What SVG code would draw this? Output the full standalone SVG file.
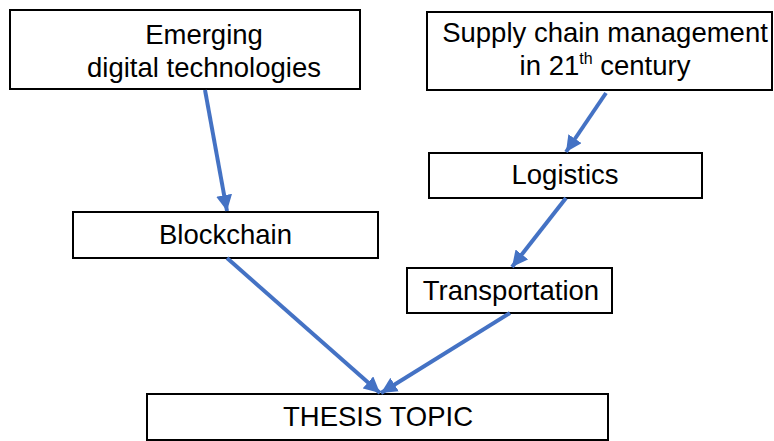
<svg xmlns="http://www.w3.org/2000/svg" width="774" height="441" viewBox="0 0 774 441">
<style>
.box{fill:#fff;stroke:#000;stroke-width:2}
.t{font-family:"Liberation Sans",Arial,sans-serif;font-size:27.5px;fill:#000;text-anchor:middle}
.c{stroke:#4472C4;stroke-width:4;fill:none;marker-end:url(#ah)}
</style>
<defs>
<marker id="ah" markerUnits="userSpaceOnUse" markerWidth="18" markerHeight="16" refX="16" refY="8" orient="auto">
<path d="M0,0 L16,8 L0,16 Z" fill="#4472C4"/>
</marker>
</defs>
<rect width="774" height="441" fill="#fff"/>
<g id="emerging">
<rect class="box" x="10" y="10" width="350" height="79"/>
<text class="t" x="204" y="44">Emerging</text>
<text class="t" x="204" y="77">digital technologies</text>
</g>
<g id="scm">
<rect class="box" x="427" y="12" width="345" height="78"/>
<text class="t" x="605" y="42">Supply chain management</text>
<text class="t" x="605" y="75">in 21<tspan font-size="16" dy="-11">th</tspan><tspan dy="11"> century</tspan></text>
</g>
<g id="blockchain">
<rect class="box" x="73" y="212" width="305" height="46"/>
<text class="t" x="225.5" y="244">Blockchain</text>
</g>
<g id="logistics">
<rect class="box" x="429" y="153" width="273" height="45"/>
<text class="t" x="565" y="184">Logistics</text>
</g>
<g id="transportation">
<rect class="box" x="407" y="268" width="205" height="45"/>
<text class="t" x="511" y="300">Transportation</text>
</g>
<g id="thesis">
<rect class="box" x="147" y="394" width="461" height="46"/>
<text class="t" x="378" y="426">THESIS TOPIC</text>
</g>
<g id="connectors">
<line class="c" x1="205" y1="90" x2="227" y2="211"/>
<line class="c" x1="606" y1="93" x2="566" y2="152"/>
<line class="c" x1="566" y1="198" x2="512" y2="267"/>
<line class="c" x1="227" y1="258" x2="380" y2="393"/>
<line class="c" x1="510" y1="313" x2="381" y2="393"/>
</g>
</svg>
